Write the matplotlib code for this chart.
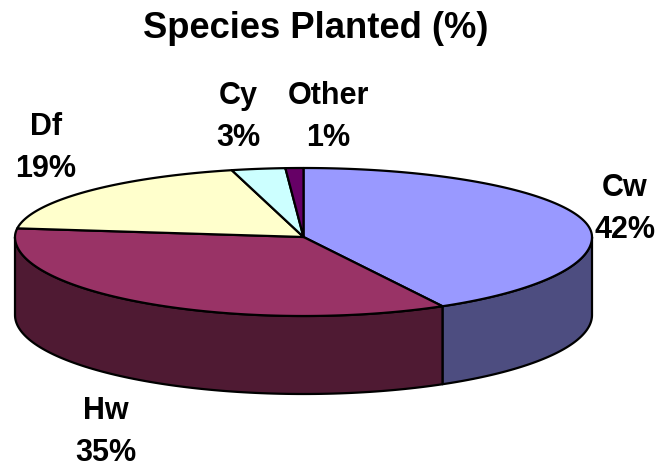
import numpy as np
import matplotlib
matplotlib.use("Agg")
import matplotlib.pyplot as plt
from matplotlib.patches import Polygon

plt.rcParams['font.family'] = ['Liberation Sans', 'DejaVu Sans']

# Data
categories = ["Cw", "Hw", "Df", "Cy", "Other"]
values = [42, 35, 19, 3, 1]
top_colors = ["#9999FF", "#993366", "#FFFFCC", "#CCFFFF", "#660066"]
side_colors = ["#4D4D80", "#4F1A33", "#80806A", "#6A8080", "#330033"]
title = "Species Planted (%)"

# Geometry (pixel space)
W, H = 659, 468
cx, cy = 303.5, 237.0
rx = 288.5
ry_back, ry_front = 69.0, 79.0
depth = 78.0

label_pos = {"Cw": (625, 209), "Hw": (106, 432), "Df": (46, 148),
             "Cy": (238, 117), "Other": (328, 117)}

fig = plt.figure(figsize=(W / 100, H / 100), dpi=100)
ax = fig.add_axes([0, 0, 1, 1])
ax.set_xlim(0, W)
ax.set_ylim(H, 0)
ax.axis('off')


def pt(t):
    s = np.sin(t)
    ry = np.where(s >= 0, ry_back, ry_front)
    return cx + rx * np.cos(t), cy - ry * s


total = float(sum(values))
fracs = [v / total for v in values]
starts = []
a = np.pi / 2
for f in fracs:
    starts.append((a, a - 2 * np.pi * f))
    a -= 2 * np.pi * f

lw = 1.6
# sides (front half: t in [-pi, 0])
for (t0, t1), sc in zip(starts, side_colors):
    lo, hi = t1, t0
    a0 = max(lo, -np.pi)
    a1 = min(hi, 0.0)
    if a1 <= a0:
        continue
    ts = np.linspace(a1, a0, 100)
    x, y = pt(ts)
    xs = np.concatenate([x, x[::-1]])
    ys = np.concatenate([y, (y + depth)[::-1]])
    ax.add_patch(Polygon(np.column_stack([xs, ys]), closed=True,
                         facecolor=sc, edgecolor='black', lw=lw, joinstyle='round'))

# tops
for (t0, t1), tc in zip(starts, top_colors):
    ts = np.linspace(t0, t1, 200)
    x, y = pt(ts)
    xs = np.concatenate([[cx], x])
    ys = np.concatenate([[cy], y])
    ax.add_patch(Polygon(np.column_stack([xs, ys]), closed=True,
                         facecolor=tc, edgecolor='black', lw=lw, joinstyle='round'))

for cat, v in zip(categories, values):
    x, y = label_pos[cat]
    ax.text(x, y, f"{cat}\n{v}%", ha='center', va='center', fontsize=22,
            fontweight='bold', linespacing=1.5, multialignment='center')

ax.text(316, 29, title, ha='center', va='center', fontsize=26.2, fontweight='bold')

fig.savefig("out.png", dpi=100)
